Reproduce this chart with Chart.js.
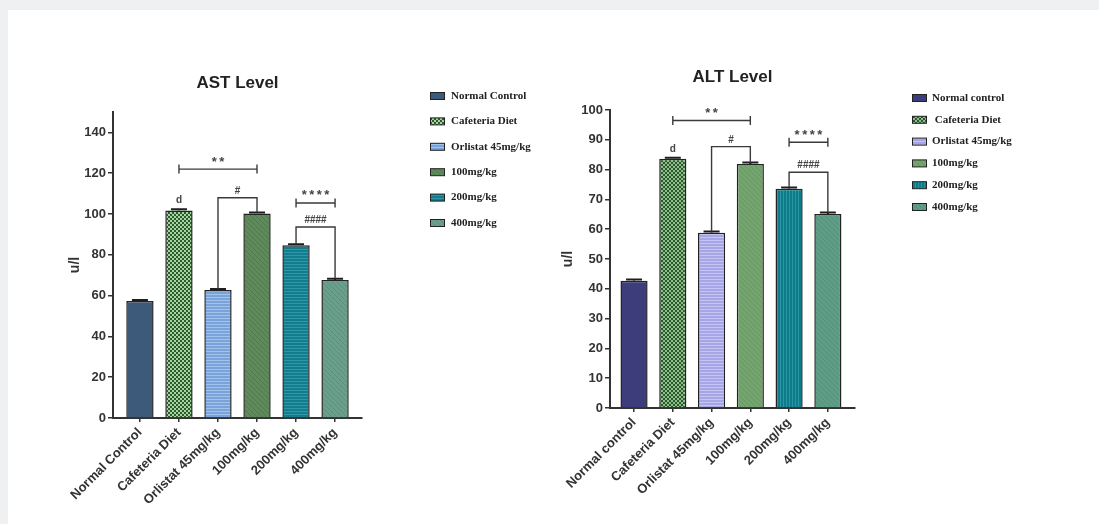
<!DOCTYPE html>
<html>
<head>
<meta charset="utf-8">
<script src="https://cdn.jsdelivr.net/npm/chart.js@4.4.1/dist/chart.umd.min.js"></script>
<style>
  html, body { margin: 0; padding: 0; background: #eff0f2; width: 1099px; height: 524px; overflow: hidden; }
  #sheet { position: absolute; left: 8px; top: 10px; width: 1091px; height: 514px; background: #ffffff; }
  .box { position: absolute; top: 0; height: 524px; }
  #astBox { left: 0; width: 549px; }
  #altBox { left: 549px; width: 550px; }
</style>
</head>
<body>
<div id="sheet"></div>
<div class="box" id="astBox"><canvas id="ast" width="549" height="524"></canvas></div>
<div class="box" id="altBox"><canvas id="alt" width="550" height="524"></canvas></div>
<script>
// ---- groups and measured enzyme levels (u/l) ----
const astCategories = ['Normal Control', 'Cafeteria Diet', 'Orlistat 45mg/kg', '100mg/kg', '200mg/kg', '400mg/kg'];
const altCategories = ['Normal control', 'Cafeteria Diet', 'Orlistat 45mg/kg', '100mg/kg', '200mg/kg', '400mg/kg'];
const astLegendLabels = ['Normal Control', 'Cafeteria Diet', 'Orlistat 45mg/kg', '100mg/kg', '200mg/kg', '400mg/kg'];
const altLegendLabels = ['Normal control', ' Cafeteria Diet', 'Orlistat 45mg/kg', '100mg/kg', '200mg/kg', '400mg/kg'];

const astValues = [57.4, 101.7, 62.7, 100.2, 84.7, 67.7];
const astErrors = [0.5, 0.6, 0.5, 0.5, 0.5, 0.6];
const altValues = [42.7, 83.6, 58.8, 81.9, 73.6, 65.1];
const altErrors = [0.4, 0.4, 0.4, 0.5, 0.4, 0.5];

const astTicks = [0, 20, 40, 60, 80, 100, 120, 140];
const altTicks = [0, 10, 20, 30, 40, 50, 60, 70, 80, 90, 100];

// significance marks: bar indices compared and bracket level in u/l
const astSpans = [{ from: 1, to: 3, level: 122, text: '**' }, { from: 4, to: 5, level: 105.4, text: '****' }];
const astLinks = [{ from: 2, to: 3, level: 108, text: '#' }, { from: 4, to: 5, level: 93.6, text: '####' }];
const astLetters = [{ at: 1, text: 'd' }];
const altSpans = [{ from: 1, to: 3, level: 96.5, text: '**' }, { from: 4, to: 5, level: 89.2, text: '****' }];
const altLinks = [{ from: 2, to: 3, level: 87.7, text: '#' }, { from: 4, to: 5, level: 79.1, text: '####' }];
const altLetters = [{ at: 1, text: 'd' }];

// ---- fills ----
function pattern(kind, a, b) {
  if (kind === 'solid') return a;
  const c = document.createElement('canvas');
  const g = c.getContext('2d');
  if (kind === 'checker') {
    c.width = 4; c.height = 4;
    g.fillStyle = a; g.fillRect(0, 0, 4, 4);
    g.fillStyle = b; g.fillRect(0, 0, 2, 2); g.fillRect(2, 2, 2, 2);
  } else if (kind === 'hstripe') {
    c.width = 4; c.height = 3;
    g.fillStyle = a; g.fillRect(0, 0, 4, 3);
    g.fillStyle = b; g.fillRect(0, 0, 4, 1);
  } else if (kind === 'vstripe') {
    c.width = 3; c.height = 4;
    g.fillStyle = a; g.fillRect(0, 0, 3, 4);
    g.fillStyle = b; g.fillRect(0, 0, 1, 4);
  } else if (kind === 'diag') {
    c.width = 5; c.height = 5;
    g.fillStyle = a; g.fillRect(0, 0, 5, 5);
    g.strokeStyle = b; g.lineWidth = 1;
    g.beginPath();
    for (const k of [-5, 0, 5]) { g.moveTo(k, 0); g.lineTo(k + 5, 5); }
    g.stroke();
  }
  return g.createPattern(c, 'repeat');
}

const astFills = [
  pattern('solid', '#3e5a7b'),
  pattern('checker', '#a6d6a0', '#2e5a30'),
  pattern('hstripe', '#7aa3da', '#a2c3ee'),
  pattern('diag', '#5f8b5c', '#4f7a4d'),
  pattern('hstripe', '#137c8d', '#2e98a8'),
  pattern('diag', '#6aa08b', '#5b9079')
];
const altFills = [
  pattern('solid', '#3d3d7b'),
  pattern('checker', '#8dbf8a', '#2d582e'),
  pattern('hstripe', '#a6a6e6', '#c4c4f5'),
  pattern('diag', '#74a56f', '#669762'),
  pattern('vstripe', '#0e7b8a', '#2a95a3'),
  pattern('diag', '#5f9d87', '#529079')
];

const SANS = '"Liberation Sans", Arial, sans-serif';
const SERIF = '"Liberation Serif", "Times New Roman", serif';
const INK = '#333333';

// stars and hashes use different glyph sizes
function markText(ctx, text, x, lineY) {
  if (text[0] === '*') {
    ctx.font = 'bold 13px ' + SANS;
    ctx.letterSpacing = '2.5px';
    ctx.fillText(text, x + 1.25, lineY - 3.5);
  } else {
    ctx.font = 'bold 10px ' + SANS;
    ctx.letterSpacing = '0px';
    ctx.fillText(text, x, lineY - 4);
  }
  ctx.letterSpacing = '0px';
}

// error caps, comparison brackets and letters drawn in data units
function marksPlugin(cfg) {
  return {
    id: 'marks',
    afterDatasetsDraw(chart) {
      const { ctx, scales: { x, y } } = chart;
      const top = i => y.getPixelForValue(cfg.values[i] + cfg.errors[i]);
      ctx.save();
      ctx.strokeStyle = '#1e1e1e';
      ctx.lineWidth = 2;
      cfg.values.forEach((v, i) => {
        const px = x.getPixelForValue(i);
        ctx.beginPath();
        ctx.moveTo(px, y.getPixelForValue(v));
        ctx.lineTo(px, top(i));
        ctx.moveTo(px - 8, top(i));
        ctx.lineTo(px + 8, top(i));
        ctx.stroke();
      });
      ctx.strokeStyle = '#3a3a3a';
      ctx.lineWidth = 1.4;
      ctx.fillStyle = '#444';
      ctx.textAlign = 'center';
      ctx.textBaseline = 'alphabetic';
      cfg.spans.forEach(s => {
        const x1 = x.getPixelForValue(s.from), x2 = x.getPixelForValue(s.to);
        const py = y.getPixelForValue(s.level);
        ctx.beginPath();
        ctx.moveTo(x1, py); ctx.lineTo(x2, py);
        ctx.moveTo(x1, py - 4.5); ctx.lineTo(x1, py + 4.5);
        ctx.moveTo(x2, py - 4.5); ctx.lineTo(x2, py + 4.5);
        ctx.stroke();
        markText(ctx, s.text, (x1 + x2) / 2, py);
      });
      cfg.links.forEach(l => {
        const x1 = x.getPixelForValue(l.from), x2 = x.getPixelForValue(l.to);
        const py = y.getPixelForValue(l.level);
        ctx.beginPath();
        ctx.moveTo(x1, top(l.from)); ctx.lineTo(x1, py);
        ctx.lineTo(x2, py); ctx.lineTo(x2, top(l.to));
        ctx.stroke();
        markText(ctx, l.text, (x1 + x2) / 2, py);
      });
      ctx.font = 'bold 10px ' + SANS;
      cfg.letters.forEach(t => {
        ctx.fillText(t.text, x.getPixelForValue(t.at), top(t.at) - 6);
      });
      ctx.restore();
    }
  };
}

// legend block beside each plot
function legendPlugin(cfg) {
  return {
    id: 'sideLegend',
    afterDraw(chart) {
      const ctx = chart.ctx;
      ctx.save();
      ctx.font = 'bold 11px ' + SERIF;
      ctx.textBaseline = 'middle';
      ctx.textAlign = 'left';
      cfg.labels.forEach((label, i) => {
        const cy = cfg.y + i * cfg.step;
        ctx.fillStyle = cfg.fills[i];
        ctx.fillRect(cfg.x, cy - 3.5, 14, 7);
        ctx.strokeStyle = '#222';
        ctx.lineWidth = 1;
        ctx.strokeRect(cfg.x + 0.5, cy - 3.5, 14, 7);
        ctx.fillStyle = '#222';
        ctx.fillText(label, cfg.textX, cy);
      });
      ctx.restore();
    }
  };
}

function buildChart(id, cfg) {
  return new Chart(document.getElementById(id), {
    type: 'bar',
    data: {
      datasets: [{
        data: cfg.values.map((v, i) => ({ x: i, y: v })),
        backgroundColor: cfg.fills,
        borderColor: '#222222',
        borderWidth: 1.5,
        categoryPercentage: 0.7,
        barPercentage: 1
      }]
    },
    options: {
      responsive: false,
      animation: false,
      devicePixelRatio: 1,
      events: [],
      layout: { padding: cfg.padding },
      plugins: {
        legend: { display: false },
        tooltip: { enabled: false },
        title: {
          display: true,
          text: cfg.title,
          fullSize: false,
          color: '#222',
          font: { family: SANS, size: 17, weight: 'bold' },
          padding: cfg.titlePadding
        }
      },
      scales: {
        x: {
          type: 'linear',
          min: cfg.xMin,
          max: cfg.xMax,
          offset: false,
          afterBuildTicks: s => { s.ticks = cfg.categories.map((_, i) => ({ value: i })); },
          afterFit: s => { s.height = 100; },
          grid: { offset: false, drawOnChartArea: false, tickLength: 4, color: INK, lineWidth: 1.5 },
          border: { color: INK, width: 2 },
          ticks: {
            autoSkip: false,
            minRotation: 45,
            maxRotation: 45,
            padding: 3,
            color: INK,
            font: { family: SANS, size: 13, weight: 'bold' },
            callback: v => cfg.categories[v]
          }
        },
        y: {
          min: 0,
          max: cfg.yMax,
          afterBuildTicks: s => { s.ticks = cfg.ticks.map(v => ({ value: v })); },
          afterFit: s => { s.width = cfg.yWidth; },
          grid: { drawOnChartArea: false, tickLength: 5, color: INK, lineWidth: 1.5 },
          border: { color: INK, width: 2 },
          ticks: { padding: 2, color: INK, font: { family: SANS, size: 13, weight: 'bold' } },
          title: {
            display: true,
            text: 'u/l',
            color: INK,
            font: { family: SANS, size: 14, weight: 'bold' },
            padding: { top: cfg.yTitlePad, bottom: 0 }
          }
        }
      }
    },
    plugins: [
      marksPlugin(cfg),
      legendPlugin({ labels: cfg.legendLabels, fills: cfg.fills, x: cfg.legendX, textX: cfg.legendTextX, y: cfg.legendY, step: cfg.legendStep })
    ]
  });
}

buildChart('ast', {
  title: 'AST Level',
  categories: astCategories,
  legendLabels: astLegendLabels,
  values: astValues,
  errors: astErrors,
  fills: astFills,
  ticks: astTicks,
  spans: astSpans,
  links: astLinks,
  letters: astLetters,
  yMax: 150,
  xMin: -0.69,
  xMax: 5.69,
  yWidth: 54,
  yTitlePad: 7.6,
  padding: { left: 59, right: 187, top: 60, bottom: 6 },
  titlePadding: { top: 12.8, bottom: 18.8 },
  legendX: 430, legendTextX: 451, legendY: 96, legendStep: 25.4
});

buildChart('alt', {
  title: 'ALT Level',
  categories: altCategories,
  legendLabels: altLegendLabels,
  values: altValues,
  errors: altErrors,
  fills: altFills,
  ticks: altTicks,
  spans: altSpans,
  links: altLinks,
  letters: altLetters,
  yMax: 100,
  xMin: -0.62,
  xMax: 5.70,
  yWidth: 54,
  yTitlePad: 3.6,
  padding: { left: 7, right: 244, top: 50, bottom: 16 },
  titlePadding: { top: 16.8, bottom: 22.8 },
  legendX: 363, legendTextX: 383, legendY: 98, legendStep: 21.8
});
</script>
</body>
</html>
